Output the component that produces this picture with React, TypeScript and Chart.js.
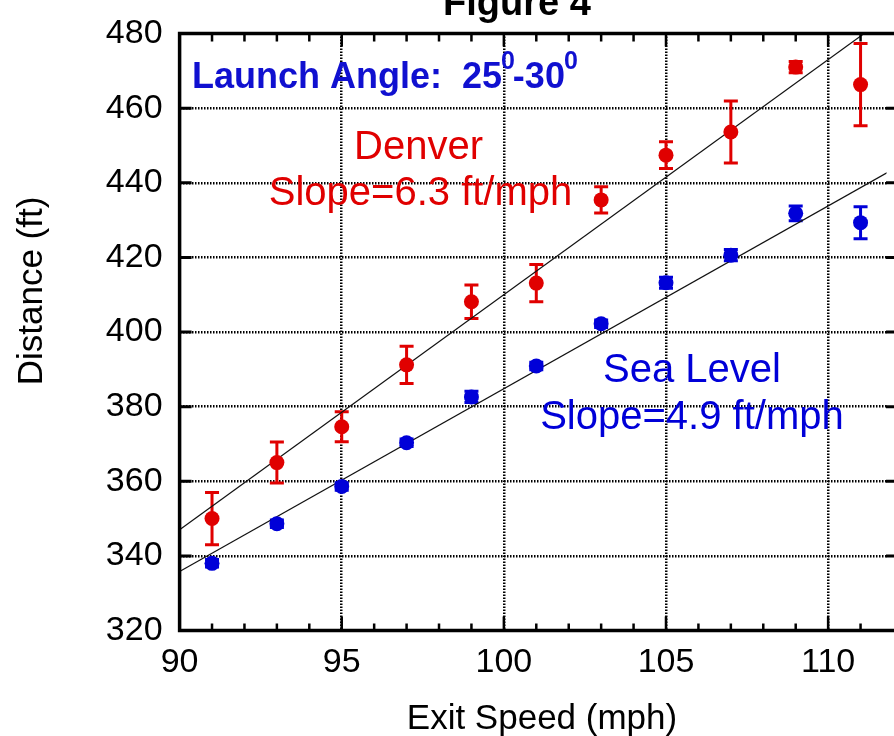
import React, { useEffect, useRef } from "react";
import { Chart, registerables } from "chart.js";

Chart.register(...registerables);

const speeds = [91, 93, 95, 97, 99, 101, 103, 105, 107, 109, 111];
const denverDist = [350.0, 365.0, 374.6, 391.2, 408.1, 413.1, 435.4, 447.4, 453.6, 471.0, 466.3];
const denverErr = [7, 5.5, 4, 5, 4.5, 5, 3.5, 3.6, 8.3, 1.5, 11];
const seaDist = [338.0, 348.6, 358.6, 370.3, 382.6, 390.9, 402.2, 413.2, 420.6, 431.8, 429.3];
const seaErr = [1, 1, 1, 1, 1.5, 1, 1, 1.5, 1.5, 2, 4.3];
const denverFit = [
  { x: 90, y: 347 },
  { x: 112, y: 485.6 },
];
const seaFit = [
  { x: 90, y: 335.8 },
  { x: 112, y: 443.6 },
];
const xTicks = [90, 95, 100, 105, 110];
const yTicks = [320, 340, 360, 380, 400, 420, 440, 460, 480];

const X_MIN = 90;
const X_MAX = 111.8;
const Y_MIN = 320;
const Y_MAX = 480;

const RED = "#e00000";
const BLUE = "#0000d8";
const FONT = "'Liberation Sans', Arial, sans-serif";

const errPlugin = {
  id: "errbars",
  beforeDatasetsDraw(chart: any) {
    const ctx = chart.ctx;
    const xs = chart.scales.x;
    const ys = chart.scales.y;
    const sets = [
      { v: denverDist, e: denverErr, c: RED },
      { v: seaDist, e: seaErr, c: BLUE },
    ];
    ctx.save();
    ctx.lineWidth = 3;
    sets.forEach((s) => {
      ctx.strokeStyle = s.c;
      s.v.forEach((val, i) => {
        const px = xs.getPixelForValue(speeds[i]);
        const top = ys.getPixelForValue(val + s.e[i]);
        const bot = ys.getPixelForValue(val - s.e[i]);
        ctx.beginPath();
        ctx.moveTo(px, top);
        ctx.lineTo(px, bot);
        ctx.moveTo(px - 7, top);
        ctx.lineTo(px + 7, top);
        ctx.moveTo(px - 7, bot);
        ctx.lineTo(px + 7, bot);
        ctx.stroke();
      });
    });
    ctx.restore();
  },
};

const framePlugin = {
  id: "frame",
  afterDraw(chart: any) {
    const ctx = chart.ctx;
    const ca = chart.chartArea;
    const xs = chart.scales.x;
    const ys = chart.scales.y;
    const W = chart.width;
    ctx.save();
    ctx.strokeStyle = "#000";
    ctx.lineCap = "butt";
    // frame
    ctx.lineWidth = 3.5;
    ctx.beginPath();
    ctx.moveTo(ca.left, ca.top);
    ctx.lineTo(W, ca.top);
    ctx.moveTo(ca.left, ca.top - 1.75);
    ctx.lineTo(ca.left, ca.bottom + 1.75);
    ctx.moveTo(ca.left, ca.bottom);
    ctx.lineTo(W, ca.bottom);
    ctx.stroke();
    // x ticks (minor every 1, major every 5)
    ctx.lineWidth = 2.5;
    for (let v = X_MIN + 1; v < X_MAX; v += 1) {
      const major = v % 5 === 0;
      const px = xs.getPixelForValue(v);
      ctx.beginPath();
      ctx.moveTo(px, ca.bottom);
      ctx.lineTo(px, ca.bottom - (major ? 14 : 7));
      ctx.moveTo(px, ca.top);
      ctx.lineTo(px, ca.top + (major ? 13 : 8));
      ctx.stroke();
    }
    // y ticks
    ctx.lineWidth = 3;
    yTicks.forEach((v) => {
      if (v === Y_MIN || v === Y_MAX) return;
      const py = ys.getPixelForValue(v);
      ctx.beginPath();
      ctx.moveTo(ca.left, py);
      ctx.lineTo(ca.left + 12, py);
      ctx.moveTo(W, py);
      ctx.lineTo(W - 8, py);
      ctx.stroke();
    });
    // title (cropped)
    ctx.fillStyle = "#000";
    ctx.font = `bold 38px ${FONT}`;
    ctx.textAlign = "center";
    ctx.textBaseline = "alphabetic";
    ctx.fillText("Figure 4", 517, 15);

    // axis titles
    ctx.font = `35px ${FONT}`;
    ctx.fillText("Exit Speed (mph)", 542, 729);
    ctx.save();
    ctx.translate(42, 291);
    ctx.rotate(-Math.PI / 2);
    ctx.fillText("Distance (ft)", 0, 0);
    ctx.restore();

    // annotations
    const at = (x: number, y: number) => [xs.getPixelForValue(x), ys.getPixelForValue(y)];
    ctx.font = `40px ${FONT}`;
    ctx.fillStyle = RED;
    let p = at(97.37, 446.4);
    ctx.fillText("Denver", p[0], p[1]);
    p = at(97.43, 434.1);
    ctx.fillText("Slope=6.3 ft/mph", p[0], p[1]);
    ctx.fillStyle = BLUE;
    p = at(105.8, 386.6);
    ctx.fillText("Sea Level", p[0], p[1]);
    p = at(105.8, 374.0);
    ctx.fillText("Slope=4.9 ft/mph", p[0], p[1]);

    // Launch angle with superscripts
    ctx.textAlign = "left";
    ctx.fillStyle = "#1010d0";
    p = at(90.38, 465.4);
    let x = p[0];
    const base = p[1];
    const big = `bold 36px ${FONT}`;
    const small = `bold 25px ${FONT}`;
    const parts: [string, boolean][] = [
      ["Launch Angle:  25", false],
      ["0", true],
      ["-30", false],
      ["0", true],
    ];
    parts.forEach(([t, sup]) => {
      ctx.font = sup ? small : big;
      const w = ctx.measureText(t).width;
      ctx.fillText(t, sup ? x - 1 : x, sup ? base - 19 : base);
      x += sup ? w - 3 : w;
    });
    ctx.restore();
  },
};

export default function App() {
  const ref = useRef<HTMLCanvasElement | null>(null);
  useEffect(() => {
    document.body.style.margin = "0";
    document.body.style.overflow = "hidden";
    const canvas = ref.current!;
    const chart = new Chart(canvas, {
      type: "scatter",
      data: {
        datasets: [
          {
            label: "Denver",
            data: speeds.map((s, i) => ({ x: s, y: denverDist[i] })),
            backgroundColor: RED,
            borderWidth: 0,
            pointRadius: 7.5,
            pointHoverRadius: 7.5,
          },
          {
            label: "Sea Level",
            data: speeds.map((s, i) => ({ x: s, y: seaDist[i] })),
            backgroundColor: BLUE,
            borderWidth: 0,
            pointRadius: 7.5,
            pointHoverRadius: 7.5,
          },
          {
            label: "Denver fit",
            data: denverFit,
            showLine: true,
            borderColor: "#111",
            borderWidth: 1.2,
            pointRadius: 0,
          },
          {
            label: "Sea fit",
            data: seaFit,
            showLine: true,
            borderColor: "#111",
            borderWidth: 1.2,
            pointRadius: 0,
          },
        ],
      },
      options: {
        responsive: false,
        animation: false,
        events: [],
        layout: { padding: { top: 33.5, right: 0, left: 0, bottom: 0 } },
        plugins: {
          legend: { display: false },
          title: { display: false },
          tooltip: { enabled: false },
        },
        scales: {
          x: {
            type: "linear",
            min: X_MIN,
            max: X_MAX,
            afterFit: (s: any) => {
              s.height = 105.5;
              s.paddingLeft = 0;
              s.paddingRight = 0;
            },
            afterBuildTicks: (s: any) => {
              s.ticks = xTicks.map((v) => ({ value: v }));
            },
            ticks: {
              color: "#000",
              font: { family: FONT, size: 34 },
              padding: 12,
              maxRotation: 0,
              autoSkip: false,
            },
            grid: {
              drawTicks: false,
              lineWidth: 2.5,
              color: (c: any) =>
                c.tick && c.tick.value > X_MIN && c.tick.value < X_MAX ? "#000" : "rgba(0,0,0,0)",
            },
            border: { display: false, dash: [1.5, 1.5] },
            title: { display: false },
          },
          y: {
            type: "linear",
            min: Y_MIN,
            max: Y_MAX,
            afterFit: (s: any) => {
              s.width = 179.6;
              s.paddingTop = 0;
              s.paddingBottom = 0;
            },
            afterBuildTicks: (s: any) => {
              s.ticks = yTicks.map((v) => ({ value: v }));
            },
            ticks: {
              color: "#000",
              font: { family: FONT, size: 34 },
              padding: 17,
              autoSkip: false,
            },
            grid: {
              drawTicks: false,
              lineWidth: 2.5,
              color: (c: any) =>
                c.tick && c.tick.value > Y_MIN && c.tick.value < Y_MAX ? "#000" : "rgba(0,0,0,0)",
            },
            border: { display: false, dash: [1.5, 1.5] },
            title: { display: false },
          },
        },
      },
      plugins: [errPlugin, framePlugin],
    });
    return () => chart.destroy();
  }, []);
  return (
    <div style={{ width: 894, height: 736, overflow: "hidden", background: "#fff" }}>
      <canvas ref={ref} width={894} height={736} style={{ display: "block" }} />
    </div>
  );
}
